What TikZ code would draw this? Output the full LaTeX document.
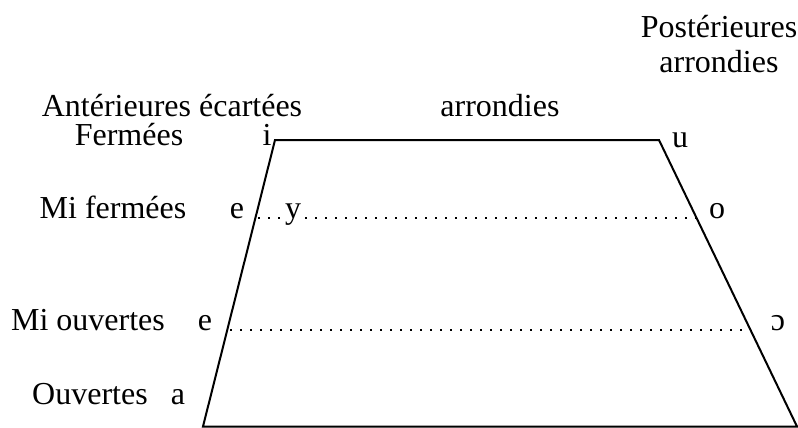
\documentclass[tikz,border=0pt]{standalone}
\usepackage{fontspec}
\setmainfont{Liberation Serif}
\usetikzlibrary{calc}

\begin{document}
\begin{tikzpicture}[x=0.5pt, y=-0.5pt, line width=1pt,
	   lab/.style={anchor=base, inner sep=0pt, font=\fontsize{16}{17.5}\selectfont},
	   pts/.style={line width=1pt, dash pattern=on 1pt off 4pt}]
	  \useasboundingbox (0,0) rectangle (798,428);
	  % corners of the trapezium
	  \coordinate (TL) at (275,140);
	  \coordinate (TR) at (659,140);
	  \coordinate (BR) at (797,426.5);
	  \coordinate (BL) at (203,426.5);
	  \draw (BL) -- (TL) -- (TR) -- (BR) -- cycle;
	  % points on the sides
	  \coordinate (mfL) at ($(TL)!0.272!(BL)$);
	  \coordinate (mfR) at ($(TR)!0.272!(BR)$);
	  \coordinate (moL) at ($(TL)!0.662!(BL)$);
	  \coordinate (moR) at ($(TR)!0.662!(BR)$);
	  % column titles
	  \node[lab] (post) at (719,37) {Postérieures};
	  \node[lab] (postr) at (719,72) {arrondies};
	  \node[lab] (ant) at (172,116) {Antérieures écartées};
	  \node[lab] (arr) at (500,116) {arrondies};
	  % rows
	  \node[lab] (ferm) at (129,145) {Fermées};
	  \node[lab] (vi) at (267,145) {i};
	  \node[lab] (vu) at (680,147) {u};
	  \node[lab] (mf) at (113,218) {Mi fermées};
	  \node[lab] (ve) at (237,218) {e};
	  \node[lab] (vy) at (293,218) {y};
	  \node[lab] (vo) at (717,218) {o};
	  \node[lab] (mo) at (88,330) {Mi ouvertes};
	  \node[lab] (veo) at (205,330) {e};
	  \node[lab] (voo) at (778,330) {ɔ};
	  \node[lab] (ouv) at (90,404) {Ouvertes};
	  \node[lab] (va) at (178,404) {a};
	  % dotted rows
	  \draw[pts] ($(mfL)+(3,0)$) -- ($(vy.west|-mfL)+(-2,0)$);
	  \draw[pts] ($(vy.east|-mfL)+(3,0)$) -- (mfR);
	  \draw[pts] ($(moL)+(3,0)$) -- (moR);
	\end{tikzpicture}
\end{document}
